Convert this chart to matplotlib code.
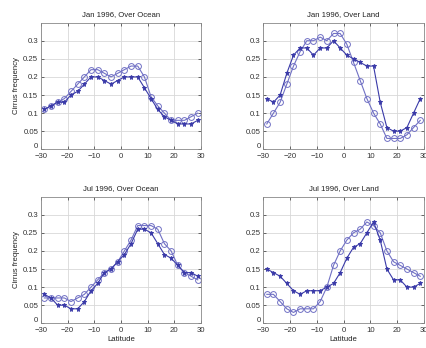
# -*- coding: utf-8 -*-
"""
Cirrus frequency vs latitude, Jan / Jul 1996, ocean and land.
Two series per panel: open circles and filled stars.
"""

import numpy as np
import matplotlib
matplotlib.use("Agg")
import matplotlib.pyplot as plt
from matplotlib.transforms import ScaledTranslation

plt.rcParams["font.family"] = ["Liberation Sans", "DejaVu Sans"]

# latitude bin centres (2.5 deg bins)
lat = np.arange(-28.75, 30, 2.5)

# ---- Jan 1996, ocean ----
jan_ocean_circ = [0.11, 0.12, 0.13, 0.14, 0.16, 0.18, 0.20, 0.22, 0.22, 0.21, 0.20, 0.21,
                  0.22, 0.23, 0.23, 0.20, 0.145, 0.12, 0.10, 0.08, 0.08, 0.08, 0.09, 0.10]
jan_ocean_star = [0.11, 0.12, 0.13, 0.13, 0.15, 0.16, 0.18, 0.20, 0.20, 0.19, 0.18, 0.19,
                  0.20, 0.20, 0.20, 0.17, 0.14, 0.11, 0.09, 0.08, 0.07, 0.07, 0.07, 0.08]

# ---- Jan 1996, land ----
jan_land_circ = [0.07, 0.10, 0.13, 0.18, 0.23, 0.27, 0.30, 0.30, 0.31, 0.30, 0.32, 0.32,
                 0.29, 0.24, 0.19, 0.14, 0.10, 0.07, 0.03, 0.03, 0.03, 0.04, 0.06, 0.08]
jan_land_star = [0.14, 0.13, 0.15, 0.21, 0.26, 0.28, 0.28, 0.26, 0.28, 0.28, 0.30, 0.28,
                 0.26, 0.25, 0.24, 0.23, 0.23, 0.13, 0.06, 0.05, 0.05, 0.06, 0.10, 0.14]

# ---- Jul 1996, ocean ----
jul_ocean_circ = [0.07, 0.07, 0.07, 0.07, 0.06, 0.07, 0.08, 0.10, 0.12, 0.14, 0.15, 0.17,
                  0.20, 0.23, 0.27, 0.27, 0.27, 0.26, 0.22, 0.20, 0.16, 0.14, 0.13, 0.12]
jul_ocean_star = [0.08, 0.07, 0.05, 0.05, 0.04, 0.04, 0.06, 0.09, 0.11, 0.14, 0.15, 0.17,
                  0.19, 0.22, 0.26, 0.26, 0.25, 0.22, 0.19, 0.18, 0.16, 0.14, 0.14, 0.13]

# ---- Jul 1996, land ----
jul_land_circ = [0.08, 0.08, 0.06, 0.04, 0.03, 0.04, 0.04, 0.04, 0.06, 0.10, 0.16, 0.20,
                 0.23, 0.25, 0.26, 0.28, 0.27, 0.25, 0.20, 0.17, 0.16, 0.15, 0.14, 0.13]
jul_land_star = [0.15, 0.14, 0.13, 0.11, 0.09, 0.08, 0.09, 0.09, 0.09, 0.10, 0.11, 0.14,
                 0.18, 0.21, 0.22, 0.25, 0.28, 0.23, 0.15, 0.12, 0.12, 0.10, 0.10, 0.11]

titles = ["Jan 1996, Over Ocean", "Jan 1996, Over Land",
          "Jul 1996, Over Ocean", "Jul 1996, Over Land"]
circ_data = [jan_ocean_circ, jan_land_circ, jul_ocean_circ, jul_land_circ]
star_data = [jan_ocean_star, jan_land_star, jul_ocean_star, jul_land_star]

xticks = [-30, -20, -10, 0, 10, 20, 30]
yticks = [0, 0.05, 0.1, 0.15, 0.2, 0.25, 0.3]
ytick_labels = ["0", "0.05", "0.1", "0.15", "0.2", "0.25", "0.3"]

CIRC_COLOR = "#7070c4"
STAR_COLOR = "#3a3aa8"
FS = 5.6

fig = plt.figure(figsize=(4.27, 3.48), dpi=100)

# axes boxes (left, bottom, width, height) in figure fractions
boxes = [
    (0.096, 0.571, 0.375, 0.364),
    (0.617, 0.571, 0.375, 0.364),
    (0.096, 0.071, 0.375, 0.364),
    (0.617, 0.071, 0.375, 0.364),
]

# nudge the "0" y label up a little, MATLAB style, so it clears "-30"
nudge = ScaledTranslation(0, 2.5 / 72, fig.dpi_scale_trans)

for i, box in enumerate(boxes):
    ax = fig.add_axes(box)
    ax.plot(lat, circ_data[i], "-o", color=CIRC_COLOR, lw=0.8,
            markersize=4.2, markerfacecolor="none", markeredgewidth=0.7)
    ax.plot(lat, star_data[i], "-*", color=STAR_COLOR, lw=0.8,
            markersize=3.6, markeredgewidth=0.6)

    ax.set_xlim(-30, 30)
    ax.set_ylim(0, 0.35)
    ax.set_xticks(xticks)
    ax.set_yticks(yticks)
    ax.set_yticklabels(ytick_labels)
    ax.grid(True, color="#d8d8d8", lw=0.6)
    ax.set_axisbelow(True)
    ax.tick_params(direction="in", length=2, width=0.5, labelsize=FS,
                   top=True, right=True, colors="#333333")
    ax.tick_params(axis="x", pad=2.5)
    ax.tick_params(axis="y", pad=2)
    for sp in ax.spines.values():
        sp.set_color("#888888")
        sp.set_linewidth(0.6)
    ax.set_title(titles[i], fontsize=FS, pad=5, color="#222222")

    lbl0 = ax.get_yticklabels()[0]
    lbl0.set_transform(lbl0.get_transform() + nudge)

    if i in (0, 2):
        ax.set_ylabel("Cirrus frequency", fontsize=FS, labelpad=2, color="#222222")
    if i in (2, 3):
        ax.set_xlabel("Latitude", fontsize=FS, labelpad=1.5, color="#222222")

fig.savefig("out.png", dpi=100)
